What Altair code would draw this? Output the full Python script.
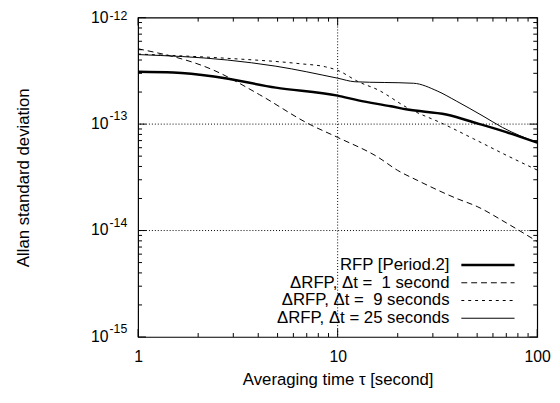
import altair as alt
import pandas as pd

# ---- data ----
tau_rfp = [1, 1.5, 2.4, 4.9, 10, 12.7, 18.5, 22.4, 35, 51.5, 70, 100]
sig_rfp = [3.1e-13, 3.05e-13, 2.8e-13, 2.2e-13, 1.85e-13, 1.67e-13, 1.47e-13, 1.37e-13, 1.23e-13, 1.0e-13, 8.4e-14, 6.7e-14]

tau_1s = [1, 2.4, 4.06, 7.2, 10, 15.9, 20, 25, 39.5, 50, 70, 100]
sig_1s = [5.1e-13, 3.2e-13, 1.89e-13, 1.0e-13, 7.5e-14, 4.9e-14, 3.67e-14, 2.97e-14, 2.0e-14, 1.68e-14, 1.18e-14, 7.9e-15]

tau_9s = [1, 2.8, 6.4, 8.7, 10, 12.7, 15.9, 22.4, 34, 47.8, 70, 100]
sig_9s = [4.55e-13, 4.15e-13, 3.7e-13, 3.45e-13, 3.2e-13, 2.5e-13, 2.1e-13, 1.42e-13, 1.0e-13, 7.3e-14, 5.1e-14, 3.7e-14]

tau_25s = [1, 2.8, 4.9, 10, 12.2, 24, 31.5, 39.5, 53.5, 67, 100]
sig_25s = [4.5e-13, 4.0e-13, 3.5e-13, 2.7e-13, 2.5e-13, 2.42e-13, 2.05e-13, 1.64e-13, 1.19e-13, 9.3e-14, 6.7e-14]

legend_labels = ["RFP [Period.2]", "\u0394RFP, \u0394t = \u00a01 second",
                 "\u0394RFP, \u0394t = \u00a09 seconds", "\u0394RFP, \u0394t = 25 seconds"]

x_major = [1, 10, 100]
x_minor = [2, 3, 4, 5, 6, 7, 8, 9, 20, 30, 40, 50, 60, 70, 80, 90]
y_major = [1e-15, 1e-14, 1e-13, 1e-12]
y_major_exp = ["-15", "-14", "-13", "-12"]
y_minor = [k * 10.0 ** e for e in (-15, -14, -13) for k in range(2, 10)]
x_grid = [10]
y_grid = [1e-14, 1e-13]

# ---- layout ----
W, H = 405, 324
FONT = "Liberation Sans"

xs = alt.Scale(type="log", domain=[1, 100], nice=False)
ys = alt.Scale(type="log", domain=[1e-15, 1e-12], nice=False)

x_axis = alt.Axis(
    values=x_major, title="Averaging time \u03c4 [second]", grid=False, ticks=False,
    domain=False, labelFontSize=16, labelPadding=12, labelFlush=False, labelOverlap=False,
    labelBound=False, titleFontSize=17, titleFontWeight="normal", titlePadding=7,
    labelColor="black", titleColor="black", labelExpr="datum.value")
y_axis = alt.Axis(
    values=y_major, labels=False, ticks=False, domain=False, grid=False,
    title="Allan standard deviation", titleFontSize=17, titleFontWeight="normal",
    titlePadding=107, titleColor="black")


def X(f):
    return alt.X(f, scale=xs, axis=x_axis, title="Averaging time \u03c4 [second]")


def Y(f):
    return alt.Y(f, scale=ys, axis=y_axis, title="Allan standard deviation")


def series(t, s, **style):
    df = pd.DataFrame({"tau": t, "sigma": s})
    return alt.Chart(df).mark_line(color="black", clip=True, interpolate="monotone", **style).encode(
        x=X("tau:Q"), y=Y("sigma:Q"))


xgrid = alt.Chart(pd.DataFrame({"g": x_grid})).mark_rule(
    color="black", strokeWidth=1, strokeDash=[1, 2]).encode(x=X("g:Q"))
ygrid = alt.Chart(pd.DataFrame({"g": y_grid})).mark_rule(
    color="black", strokeWidth=1, strokeDash=[1, 2]).encode(y=Y("g:Q"))


def xticks(vals, L):
    df = pd.DataFrame({"v": vals})
    b = alt.Chart(df).mark_rule(color="black", strokeWidth=1).encode(
        x=X("v:Q"), y=alt.value(H), y2=alt.value(H - L))
    t = alt.Chart(df).mark_rule(color="black", strokeWidth=1).encode(
        x=X("v:Q"), y=alt.value(0), y2=alt.value(L))
    return [b, t]


def yticks(vals, L):
    df = pd.DataFrame({"v": vals})
    l = alt.Chart(df).mark_rule(color="black", strokeWidth=1).encode(
        y=Y("v:Q"), x=alt.value(0), x2=alt.value(L))
    r = alt.Chart(df).mark_rule(color="black", strokeWidth=1).encode(
        y=Y("v:Q"), x=alt.value(W), x2=alt.value(W - L))
    return [l, r]


ylab_df = pd.DataFrame({"v": y_major, "e": y_major_exp})
ylab_base = alt.Chart(ylab_df).mark_text(align="right", baseline="middle", fontSize=16,
                                         color="black").encode(
    y=Y("v:Q"), x=alt.value(-30), text=alt.value("10"))
ylab_exp_low = alt.Chart(ylab_df.iloc[:3]).mark_text(align="left", baseline="middle", fontSize=12.5,
                                                     dy=-8, color="black").encode(
    y=Y("v:Q"), x=alt.value(-29), text="e:N")
ylab_exp_top = alt.Chart(ylab_df.iloc[3:]).mark_text(align="left", baseline="middle", fontSize=12.5,
                                                     dy=-2, color="black").encode(
    y=Y("v:Q"), x=alt.value(-29), text="e:N")

styles = [dict(strokeWidth=2.5), dict(strokeWidth=1, strokeDash=[6, 4]),
          dict(strokeWidth=1, strokeDash=[3, 4]), dict(strokeWidth=1)]
rows = [251, 269, 287, 305]
legend_layers = []
for lab, st, ry in zip(legend_labels, styles, rows):
    d = pd.DataFrame({"label": [lab]})
    legend_layers.append(alt.Chart(d).mark_text(align="right", baseline="middle", fontSize=17,
                                                color="black").encode(
        x=alt.value(316), y=alt.value(ry), text="label:N"))
    legend_layers.append(alt.Chart(d).mark_rule(color="black", **st).encode(
        x=alt.value(328), x2=alt.value(382), y=alt.value(ry)))

lines = [
    series(tau_rfp, sig_rfp, **styles[0]),
    series(tau_1s, sig_1s, **styles[1]),
    series(tau_9s, sig_9s, **styles[2]),
    series(tau_25s, sig_25s, **styles[3]),
]

chart = alt.layer(
    *lines, xgrid, ygrid,
    *xticks(x_major, 8), *xticks(x_minor, 4), *yticks(y_major, 8), *yticks(y_minor, 4),
    ylab_base, ylab_exp_low, ylab_exp_top, *legend_layers,
).properties(
    width=W, height=H,
    autosize=alt.AutoSizeParams(type="none"),
    padding={"left": 132, "top": 7, "right": 15, "bottom": 51},
).configure(font=FONT).configure_view(stroke="black", strokeWidth=1.2)

chart.save("out.html", embed_options={"renderer": "svg", "actions": False})
